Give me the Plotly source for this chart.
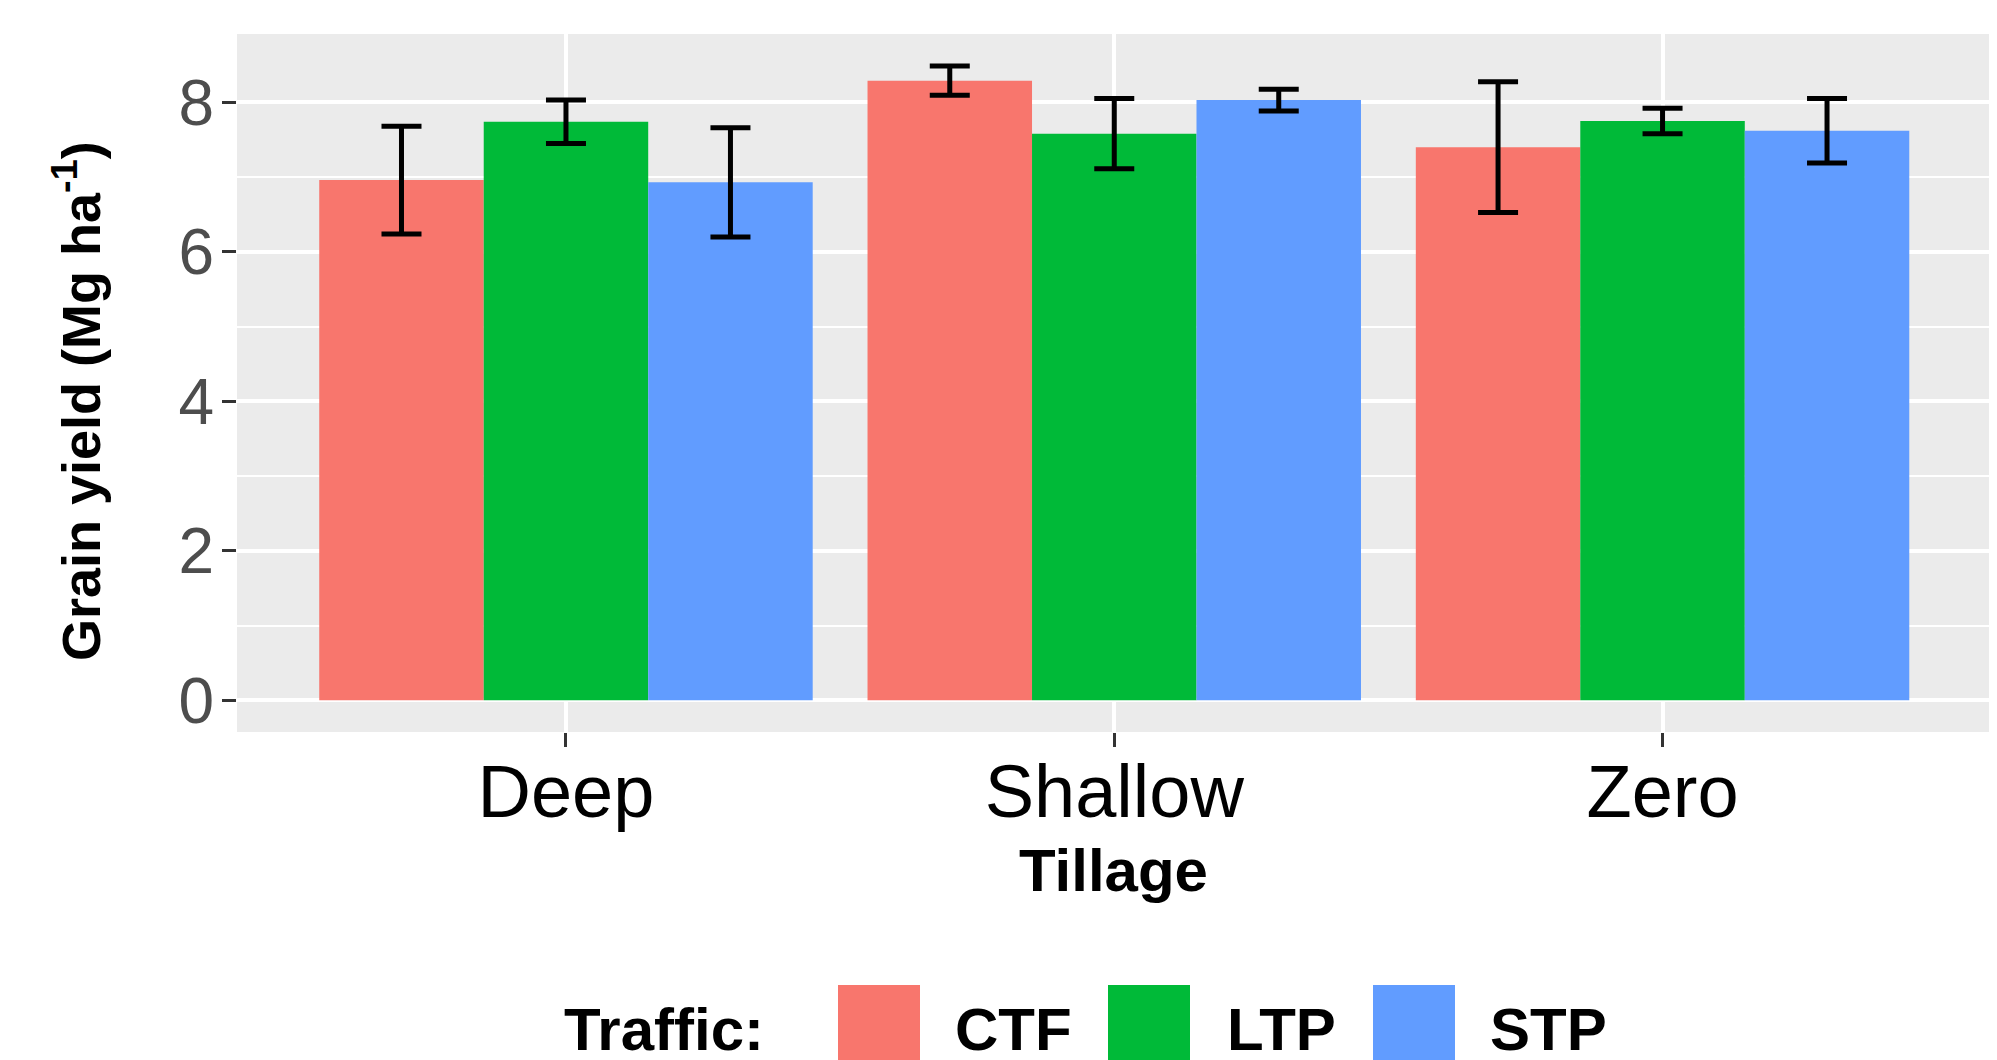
import plotly.graph_objects as go

tillage = ["Deep", "Shallow", "Zero"]
traffic = ["CTF", "LTP", "STP"]
colors = ["#F8766D", "#00BA38", "#619CFF"]
yield_ctf = [6.96, 8.29, 7.40]
yield_ltp = [7.74, 7.58, 7.75]
yield_stp = [6.93, 8.03, 7.62]
se_ctf = [0.72, 0.195, 0.875]
se_ltp = [0.29, 0.47, 0.17]
se_stp = [0.73, 0.145, 0.43]
yticks = [0, 2, 4, 6, 8]

values = [yield_ctf, yield_ltp, yield_stp]
errors = [se_ctf, se_ltp, se_stp]

FONT = "Liberation Sans, Arial, sans-serif"
OFF = 8  # default page body margin
W, H = 1997 - OFF, 1060 - OFF
ML, MR, MT = 237 - OFF, 0, 34 - OFF
PLOT_BOTTOM = 732 - OFF
MB = H - PLOT_BOTTOM
PW = W - ML - MR
PH = H - MT - MB


def px(x):
    return (x - OFF - ML) / PW


def py(y):
    return (PLOT_BOTTOM - (y - OFF)) / PH


fig = go.Figure()
for name, vals, errs, col in zip(traffic, values, errors, colors):
    fig.add_trace(go.Bar(
        x=tillage, y=vals, name=name,
        marker=dict(color=col, line=dict(width=0)),
        error_y=dict(type="data", array=errs, visible=True,
                     color="black", thickness=5, width=20),
        showlegend=False,
    ))

fig.update_layout(
    width=W, height=H,
    margin=dict(l=ML, r=MR, t=MT, b=MB),
    paper_bgcolor="white",
    plot_bgcolor="#EBEBEB",
    barmode="group", bargap=0.1, bargroupgap=0,
    font=dict(family=FONT, color="black"),
    xaxis=dict(
        range=[-0.6, 2.61], showgrid=True, gridcolor="white", gridwidth=4,
        ticks="outside", ticklen=14, tickwidth=3, tickcolor="#333333",
        tickfont=dict(size=74, color="black", family=FONT),
        ticklabelstandoff=-19,
        showline=False, zeroline=False, automargin=False,
    ),
    yaxis=dict(
        range=[-0.4245, 8.9145], tickvals=yticks,
        showgrid=True, gridcolor="white", gridwidth=4,
        minor=dict(dtick=1, showgrid=True, gridcolor="white", gridwidth=2),
        ticks="outside", ticklen=14, tickwidth=3, tickcolor="#333333",
        tickfont=dict(size=64, color="#4D4D4D", family=FONT),
        ticklabelstandoff=-5,
        showline=False, zeroline=False, automargin=False,
    ),
)

annotations = [
    dict(text="<b>Grain yield (Mg ha<sup>-1</sup>)</b>", textangle=-90,
         x=px(77), y=py(401), xref="paper", yref="paper",
         xanchor="center", yanchor="middle", showarrow=False,
         font=dict(size=54, color="black", family=FONT)),
    dict(text="<b>Tillage</b>", x=px(1113), y=py(870), xref="paper", yref="paper",
         xanchor="center", yanchor="middle", showarrow=False,
         font=dict(size=60, color="black", family=FONT)),
    dict(text="<b>Traffic:</b>", x=px(664), y=py(1029), xref="paper", yref="paper",
         xanchor="center", yanchor="middle", showarrow=False,
         font=dict(size=60, color="black", family=FONT)),
]
key_left = [838, 1108, 1373]
label_left = [953, 1225, 1488]
shapes = []
for name, col, kl, ll in zip(traffic, colors, key_left, label_left):
    shapes.append(dict(type="rect", xref="paper", yref="paper",
                       x0=px(kl), x1=px(kl + 82), y0=py(985), y1=py(1075),
                       fillcolor=col, line=dict(width=0), layer="above"))
    annotations.append(dict(text="<b>" + name + "</b>", x=px(ll), y=py(1029),
                            xref="paper", yref="paper", xanchor="left",
                            yanchor="middle", showarrow=False,
                            font=dict(size=60, color="black", family=FONT)))

fig.update_layout(annotations=annotations, shapes=shapes)
fig.write_html("out.html")
